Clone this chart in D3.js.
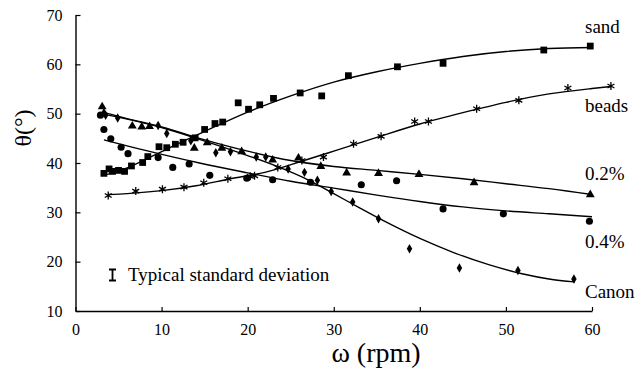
<!DOCTYPE html>
<html>
<head>
<meta charset="utf-8">
<script src="https://cdn.jsdelivr.net/npm/d3@7"></script>
<style>
  html, body { margin: 0; padding: 0; background: #fff; }
  svg { display: block; }
  svg text { font-family: "Liberation Serif", Tinos, "Times New Roman", Times, "DejaVu Serif", serif !important; fill: #000; }
</style>
</head>
<body>
<svg id="chart"></svg>
<script>
// axis ticks
const xTicks = [0, 10, 20, 30, 40, 50, 60];
const yTicks = [10, 20, 30, 40, 50, 60, 70];

// measured points (omega in rpm, theta in degrees)
const sandX = [3.3, 3.9, 4.3, 5.0, 5.7, 6.5, 7.8, 8.4, 9.7, 10.6, 11.6, 12.5, 13.9, 15.0, 16.2, 17.1, 18.9, 20.1, 21.4, 23.0, 26.1, 28.6, 31.7, 37.4, 42.7, 54.4, 59.8];
const sandY = [37.9, 38.8, 38.3, 38.5, 38.3, 39.4, 40.1, 41.3, 43.3, 43.1, 43.8, 44.2, 45.1, 46.8, 48.0, 48.3, 52.2, 50.9, 51.8, 53.1, 54.2, 53.6, 57.7, 59.5, 60.2, 62.9, 63.7];

const beadsX = [3.8, 7.0, 10.1, 12.6, 14.9, 17.7, 20.3, 20.8, 23.5, 26.3, 28.8, 32.3, 35.5, 39.4, 41.0, 46.6, 51.5, 57.2, 62.2];
const beadsY = [33.4, 34.3, 34.7, 35.1, 36.0, 36.8, 37.3, 37.4, 39.1, 40.5, 41.2, 43.9, 45.4, 48.4, 48.4, 51.0, 52.7, 55.2, 55.6];

const pt2X = [3.1, 3.3, 6.6, 7.7, 8.6, 13.8, 15.3, 17.0, 19.3, 22.9, 25.9, 28.5, 31.5, 35.2, 39.9, 46.3, 59.8];
const pt2Y = [51.4, 50.1, 47.5, 47.3, 47.4, 43.0, 44.1, 43.0, 42.3, 40.6, 41.0, 39.3, 38.0, 37.9, 37.7, 36.0, 33.6];

const pt4X = [2.9, 3.3, 4.1, 5.3, 6.1, 9.6, 11.3, 13.2, 15.6, 19.9, 22.9, 27.3, 33.2, 37.3, 42.7, 49.7, 59.7];
const pt4Y = [49.7, 46.8, 44.9, 43.2, 41.9, 41.1, 39.1, 39.8, 37.5, 36.9, 36.6, 36.1, 35.6, 36.4, 30.7, 29.7, 28.2];

const canonX = [3.5, 4.9, 9.6, 10.6, 13.4, 16.3, 18.0, 21.0, 22.1, 24.7, 26.6, 28.1, 29.7, 32.2, 35.2, 38.8, 44.6, 51.4, 57.9];
const canonY = [49.7, 49.1, 47.6, 46.0, 44.5, 42.1, 42.3, 41.2, 41.2, 38.8, 38.1, 36.5, 34.2, 32.1, 28.7, 22.6, 18.7, 18.2, 16.5];

// fitted trend curves
const sandFitX = [3.5, 6, 8, 10, 12, 15, 18, 20, 25, 30, 35, 40, 45, 50, 55, 60];
const sandFitY = [37.6, 39.0, 40.6, 42.3, 44.0, 46.4, 48.8, 50.3, 53.6, 56.4, 58.5, 60.2, 61.6, 62.6, 63.2, 63.4];

const beadsFitX = [3.8, 6, 10, 14, 18, 22, 26, 30, 35, 40, 45, 50, 55, 60, 62.2];
const beadsFitY = [33.6, 33.8, 34.4, 35.4, 36.8, 38.1, 40.2, 42.4, 45.2, 47.9, 50.2, 52.3, 54.0, 55.1, 55.5];

const pt2FitX = [3.2, 6, 10, 14.4, 20, 25, 30, 35, 40, 45, 50, 55, 60];
const pt2FitY = [50.3, 49.0, 47.3, 45.0, 42.4, 40.5, 39.3, 38.5, 37.7, 36.8, 35.8, 34.8, 33.6];

const pt4FitX = [3.3, 8, 14.4, 20, 25, 30, 35, 40, 45, 50, 55, 60];
const pt4FitY = [44.7, 42.6, 40.0, 38.0, 36.3, 34.9, 33.5, 32.2, 31.1, 30.3, 29.7, 29.1];

const canonFitX = [3.2, 6, 10, 14.4, 20, 24, 27, 30, 33, 36, 40, 44, 48, 52, 55, 58];
const canonFitY = [49.9, 48.9, 47.2, 44.8, 41.5, 38.9, 36.6, 33.8, 30.9, 28.1, 24.7, 21.8, 19.4, 17.5, 16.5, 15.9];

const seriesNames = ["sand", "beads", "0.2%", "0.4%", "Canon"];

const width = 642;
const height = 379;
const serif = "'Liberation Serif', Tinos, 'Times New Roman', Times, 'DejaVu Serif', serif";

const svg = d3.select("#chart")
  .attr("width", width)
  .attr("height", height)
  .attr("viewBox", `0 0 ${width} ${height}`);

svg.append("rect").attr("width", width).attr("height", height).attr("fill", "#fff");

const x = d3.scaleLinear().domain([0, 60]).range([75.5, 592]);
const y = d3.scaleLinear().domain([10, 70]).range([311, 15]);

const zip = (xs, ys) => xs.map((v, i) => [v, ys[i]]);

// asterisk marker ("*" with vertical stroke), like the spreadsheet star
const starPath = (r) =>
  `M0,${-r}V${r}M${-r * 0.87},${-r * 0.5}L${r * 0.87},${r * 0.5}M${-r * 0.87},${r * 0.5}L${r * 0.87},${-r * 0.5}`;

const series = [
  { name: seriesNames[0], pts: zip(sandX, sandY), fit: zip(sandFitX, sandFitY), symbol: d3.symbolSquare, size: 46 },
  { name: seriesNames[1], pts: zip(beadsX, beadsY), fit: zip(beadsFitX, beadsFitY), symbol: null, size: 4 },
  { name: seriesNames[2], pts: zip(pt2X, pt2Y), fit: zip(pt2FitX, pt2FitY), symbol: d3.symbolTriangle, size: 34 },
  { name: seriesNames[3], pts: zip(pt4X, pt4Y), fit: zip(pt4FitX, pt4FitY), symbol: d3.symbolCircle, size: 40 },
  { name: seriesNames[4], pts: zip(canonX, canonY), fit: zip(canonFitX, canonFitY), symbol: d3.symbolDiamond, size: 26 },
];

// axes: inward ticks, serif labels
const xAxis = svg.append("g")
  .attr("transform", `translate(0,${y(10)})`)
  .call(d3.axisBottom(x).tickValues(xTicks).tickSizeInner(-4).tickSizeOuter(0).tickPadding(13));

const yAxis = svg.append("g")
  .attr("transform", `translate(${x(0)},0)`)
  .call(d3.axisLeft(y).tickValues(yTicks).tickSizeInner(-5).tickSizeOuter(0).tickPadding(13));

[xAxis, yAxis].forEach((g) => {
  g.attr("font-family", serif);
  g.select(".domain").attr("stroke", "#000").attr("stroke-width", 1.4);
  g.selectAll(".tick line").attr("stroke", "#000").attr("stroke-width", 1.2);
  g.selectAll(".tick text")
    .attr("font-family", serif)
    .attr("font-size", 16)
    .attr("fill", "#000");
});

const lineGen = d3.line()
  .x((d) => x(d[0]))
  .y((d) => y(d[1]))
  .curve(d3.curveMonotoneX);

const plot = svg.append("g");

plot.selectAll("path.fit")
  .data(series)
  .join("path")
  .attr("class", "fit")
  .attr("d", (s) => lineGen(s.fit))
  .attr("fill", "none")
  .attr("stroke", "#000")
  .attr("stroke-width", 1.4);

series.forEach((s) => {
  const g = plot.append("g");
  const marks = g.selectAll("path")
    .data(s.pts)
    .join("path")
    .attr("transform", (d) => `translate(${x(d[0])},${y(d[1])})`);
  if (s.symbol) {
    marks.attr("d", d3.symbol(s.symbol, s.size)()).attr("fill", "#000");
  } else {
    marks.attr("d", starPath(s.size))
      .attr("fill", "none")
      .attr("stroke", "#000")
      .attr("stroke-width", 1.3);
  }
});

// curve labels at the right edge
const labelY = [33, 112, 180, 248, 298];
svg.append("g")
  .selectAll("text")
  .data(seriesNames)
  .join("text")
  .attr("x", 585)
  .attr("y", (d, i) => labelY[i])
  .attr("font-family", serif)
  .attr("font-size", 19)
  .text((d) => d);

// legend: typical standard deviation bar
const legend = svg.append("g");
legend.append("path")
  .attr("d", "M109,269.5H116M112.5,269.5V280.5M109,280.5H116")
  .attr("fill", "none")
  .attr("stroke", "#000")
  .attr("stroke-width", 1.8);
legend.append("text")
  .attr("x", 128)
  .attr("y", 281)
  .attr("font-family", serif)
  .attr("font-size", 19)
  .text("Typical standard deviation");

// axis titles
svg.append("text")
  .attr("x", 376)
  .attr("y", 362)
  .attr("text-anchor", "middle")
  .attr("font-family", serif)
  .attr("font-size", 28)
  .text("ω (rpm)");

svg.append("text")
  .attr("transform", "translate(31,128) rotate(-90)")
  .attr("text-anchor", "middle")
  .attr("font-family", serif)
  .attr("font-size", 24)
  .text("θ(°)");
</script>
</body>
</html>
